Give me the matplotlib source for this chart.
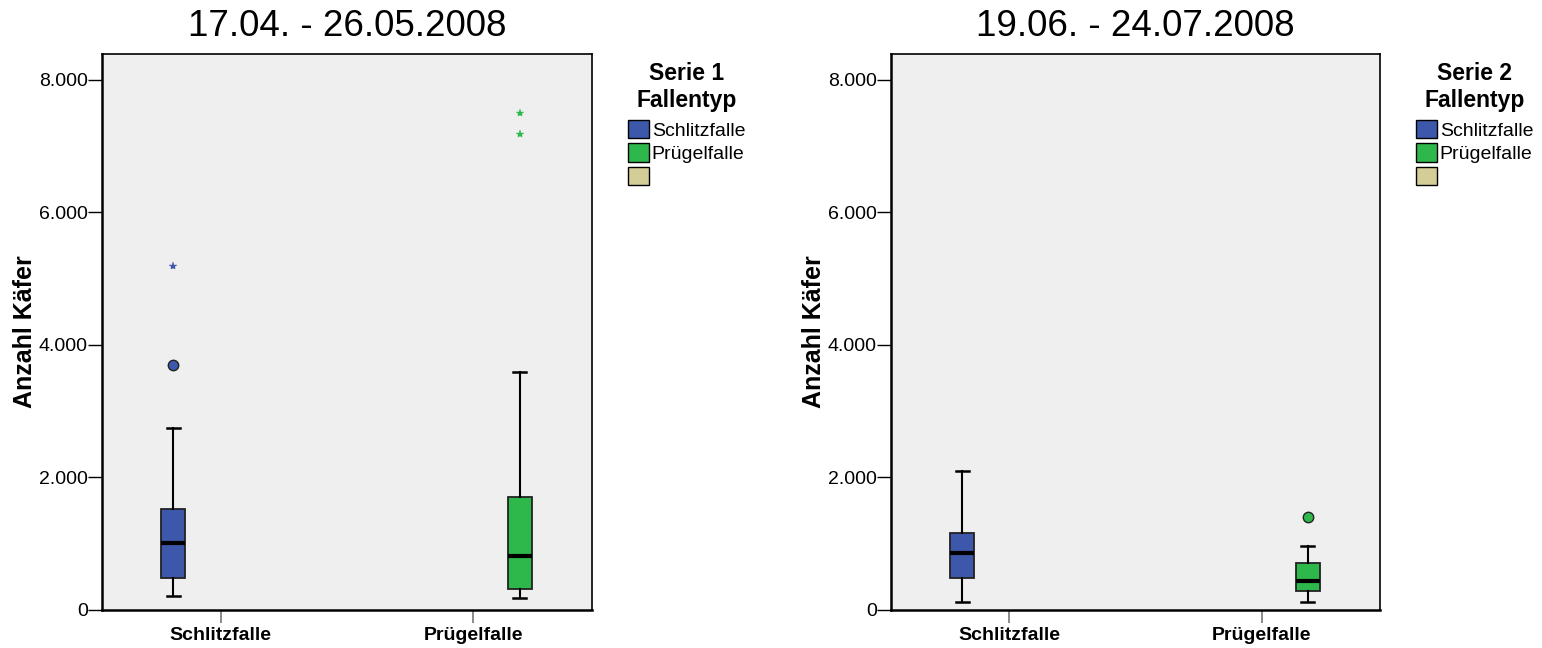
import matplotlib
matplotlib.use('Agg')
import matplotlib.pyplot as plt
from matplotlib.patches import Patch
from matplotlib.ticker import FuncFormatter

plt.rcParams['font.family'] = ['Liberation Sans', 'DejaVu Sans']

# --- data ---
categories = ['Schlitzfalle', 'Prügelfalle']
titles = ['17.04. - 26.05.2008', '19.06. - 24.07.2008']
legend_titles = ['Serie 1\nFallentyp', 'Serie 2\nFallentyp']

s1_whislo = [205, 185]
s1_q1 = [476, 321]
s1_med = [1014, 808]
s1_q3 = [1522, 1707]
s1_whishi = [2747, 3591]
s1_circles = [[3692], []]
s1_stars = [[5190], [7500, 7190]]

s2_whislo = [120, 120]
s2_q1 = [482, 291]
s2_med = [864, 437]
s2_q3 = [1155, 708]
s2_whishi = [2095, 969]
s2_circles = [[], [1402]]
s2_stars = [[], []]

colors = ['#3d58ab', '#2eb84b', '#d3ce97']
offsets = [-0.187, 0.183]

W, H = 1542, 648
fig = plt.figure(figsize=(W / 100, H / 100), dpi=100)

series = [
    (s1_whislo, s1_q1, s1_med, s1_q3, s1_whishi, s1_circles, s1_stars),
    (s2_whislo, s2_q1, s2_med, s2_q3, s2_whishi, s2_circles, s2_stars),
]
ax_left = [102, 891]
ax_width = [490, 489]


def fmt_de(v, pos):
    return '{:,.0f}'.format(v).replace(',', '.')


for k, (wlo, q1, med, q3, whi, circ, star) in enumerate(series):
    ax = fig.add_axes([ax_left[k] / W, 38 / H, ax_width[k] / W, 556 / H])
    ax.set_facecolor('#efefef')

    stats = []
    for i in range(len(categories)):
        stats.append({'whislo': wlo[i], 'q1': q1[i], 'med': med[i],
                      'q3': q3[i], 'whishi': whi[i], 'fliers': []})
    pos = [i + offsets[i] for i in range(len(categories))]
    bp = ax.bxp(stats, positions=pos, widths=0.095, patch_artist=True,
                showfliers=False,
                boxprops=dict(edgecolor='#222222', linewidth=1.3),
                medianprops=dict(color='black', linewidth=3),
                whiskerprops=dict(color='black', linewidth=1.5),
                capprops=dict(color='black', linewidth=1.8),
                capwidths=0.05)
    for patch, c in zip(bp['boxes'], colors):
        patch.set_facecolor(c)

    for i in range(len(categories)):
        if circ[i]:
            ax.plot([pos[i]] * len(circ[i]), circ[i], 'o', ms=7.5,
                    mfc=colors[i], mec='#222222', mew=1, zorder=4)
        if star[i]:
            ax.plot([pos[i]] * len(star[i]), star[i], '*', ms=6,
                    mfc=colors[i], mec=colors[i], mew=0.3, zorder=4)

    ax.set_xlim(-0.47, 1.47)
    ax.set_ylim(0, 8390)
    ax.set_yticks([0, 2000, 4000, 6000, 8000])
    ax.yaxis.set_major_formatter(FuncFormatter(fmt_de))
    ax.set_xticks([0, 1])
    ax.set_xticklabels(categories, fontsize=14, fontweight='bold')
    ax.tick_params(axis='x', length=9, width=1.2, color='#777777', pad=3)
    ax.tick_params(axis='y', length=9.8, width=1, color='black', labelsize=14, pad=0.5)
    for sp in ax.spines.values():
        sp.set_linewidth(1.2)
        sp.set_color('black')
    ax.spines['bottom'].set_linewidth(1.8)
    ax.spines['left'].set_linewidth(1.8)

    ax.set_ylabel('Anzahl Käfer', fontsize=18, fontweight='bold')
    ax.yaxis.set_label_coords(-0.133, 0.5)

    cx = (ax_left[k] + ax_width[k] / 2) / W
    fig.text(cx, 1 - 26 / H, titles[k], ha='center', va='center', fontsize=26.5)

    handles = [Patch(facecolor=c, edgecolor='black', linewidth=1) for c in colors]
    lx = (ax_left[k] + ax_width[k] + 36) / W
    leg = fig.legend(handles, categories + [''], loc='upper left',
                     bbox_to_anchor=(lx, 1 - 62 / H), bbox_transform=fig.transFigure,
                     frameon=False, fontsize=14, borderpad=0, borderaxespad=0,
                     handlelength=1.1, handleheight=1.05, handletextpad=0.12,
                     labelspacing=0.2, title=legend_titles[k],
                     title_fontproperties={'weight': 'bold', 'size': 16.5})
    leg.get_title().set_multialignment('center')
    leg._legend_box.sep = 6

fig.savefig('out.png', dpi=100)
